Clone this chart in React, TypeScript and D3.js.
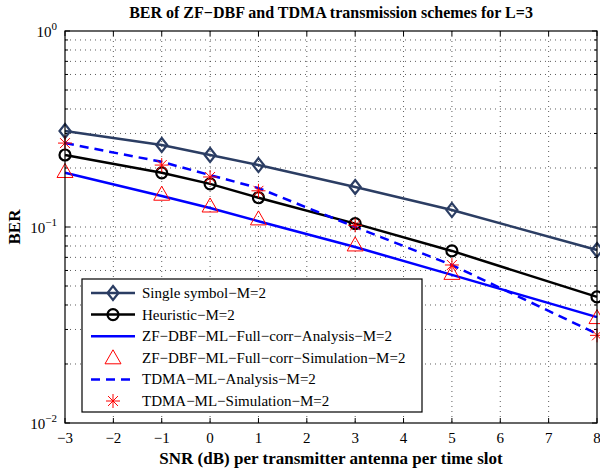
import React from "react";
import * as d3 from "d3";

// SNR points and BER values
const snr = [-3, -1, 0, 1, 3, 5, 8];
const singleSymbol = [0.309, 0.262, 0.233, 0.207, 0.16, 0.122, 0.0763];
const heuristic = [0.233, 0.189, 0.166, 0.141, 0.104, 0.0755, 0.044];
const zfAnalysis = [0.189, 0.144, 0.125, 0.107, 0.079, 0.057, 0.0347];
const zfSimulation = [0.192, 0.147, 0.128, 0.11, 0.081, 0.058, 0.0345];
const tdmaAnalysis = [0.268, 0.215, 0.184, 0.158, 0.1, 0.064, 0.0285];
const tdmaSimulation = [0.268, 0.207, 0.18, 0.153, 0.102, 0.064, 0.028];
const xTicks = [-3, -2, -1, 0, 1, 2, 3, 4, 5, 6, 7, 8];
const yDecades = [-2, -1, 0];
const legendLabels = [
  "Single symbol\u2212M=2",
  "Heuristic\u2212M=2",
  "ZF\u2212DBF\u2212ML\u2212Full\u2212corr\u2212Analysis\u2212M=2",
  "ZF\u2212DBF\u2212ML\u2212Full\u2212corr\u2212Simulation\u2212M=2",
  "TDMA\u2212ML\u2212Analysis\u2212M=2",
  "TDMA\u2212ML\u2212Simulation\u2212M=2",
];

const W = 600;
const H = 472;
const m = { left: 65, right: 597, top: 31, bottom: 423 };
const font = "Tinos";
const navy = "#2b3d63";

const x = d3.scaleLinear().domain([-3, 8]).range([m.left, m.right]);
const y = d3.scaleLog().domain([0.01, 1]).range([m.bottom, m.top]);

const minus = (v: number) => (v < 0 ? "\u2212" + Math.abs(v) : String(v));

const line = (vals: number[]) =>
  d3
    .line<number>()
    .x((_, i) => x(snr[i]))
    .y((v) => y(v))(vals) || "";

const Diamond = ({ cx, cy }: { cx: number; cy: number }) => (
  <path
    d={`M${cx},${cy - 7}L${cx + 5.5},${cy}L${cx},${cy + 7}L${cx - 5.5},${cy}Z`}
    fill="none"
    stroke={navy}
    strokeWidth={2.2}
  />
);
const Circle = ({ cx, cy }: { cx: number; cy: number }) => (
  <circle cx={cx} cy={cy} r={5.5} fill="none" stroke="#000" strokeWidth={2.2} />
);
const Triangle = ({ cx, cy }: { cx: number; cy: number }) => (
  <path
    d={`M${cx},${cy - 8}L${cx + 8},${cy + 6}L${cx - 8},${cy + 6}Z`}
    fill="none"
    stroke="#ff0000"
    strokeWidth={1}
  />
);
const Star = ({ cx, cy }: { cx: number; cy: number }) => {
  const r = 7;
  const d = r * 0.707;
  return (
    <path
      d={`M${cx - r},${cy}H${cx + r}M${cx},${cy - r}V${cy + r}M${cx - d},${cy - d}L${cx + d},${cy + d}M${cx - d},${cy + d}L${cx + d},${cy - d}`}
      stroke="#ff0000"
      strokeWidth={1}
    />
  );
};

export default function App() {
  const minorY: number[] = [];
  yDecades.slice(0, 2).forEach((e) => {
    for (let k = 2; k <= 9; k++) minorY.push(k * Math.pow(10, e));
  });
  const allY = [...minorY, 0.1];
  const lx = 82;
  const ly = 279;
  const lw = 340;
  const lh = 133;
  const rowY = (i: number) => ly + 14 + i * 21.6;

  return (
    <svg width={W} height={H} style={{ position: "absolute", left: 0, top: 0, background: "#fff" }}>
      <rect width={W} height={H} fill="#fff" />
      {/* grid */}
      <g stroke="#333" strokeWidth={0.8} strokeDasharray="1,4">
        {xTicks.slice(1, -1).map((t) => (
          <line key={t} x1={x(t)} x2={x(t)} y1={m.top} y2={m.bottom} />
        ))}
        {allY.map((v) => (
          <line key={v} x1={m.left} x2={m.right} y1={y(v)} y2={y(v)} />
        ))}
      </g>
      {/* ticks */}
      <g stroke="#000" strokeWidth={1}>
        {xTicks.map((t) => (
          <g key={t}>
            <line x1={x(t)} x2={x(t)} y1={m.bottom} y2={m.bottom - 5} />
            <line x1={x(t)} x2={x(t)} y1={m.top} y2={m.top + 5} />
          </g>
        ))}
        {minorY.map((v) => (
          <g key={v}>
            <line x1={m.left} x2={m.left + 3} y1={y(v)} y2={y(v)} />
            <line x1={m.right} x2={m.right - 3} y1={y(v)} y2={y(v)} />
          </g>
        ))}
        {yDecades.map((e) => (
          <g key={e}>
            <line x1={m.left} x2={m.left + 5} y1={y(Math.pow(10, e))} y2={y(Math.pow(10, e))} />
            <line x1={m.right} x2={m.right - 5} y1={y(Math.pow(10, e))} y2={y(Math.pow(10, e))} />
          </g>
        ))}
      </g>
      {/* series */}
      <path d={line(singleSymbol)} fill="none" stroke={navy} strokeWidth={2.5} />
      <path d={line(heuristic)} fill="none" stroke="#000" strokeWidth={2.5} />
      <path d={line(zfAnalysis)} fill="none" stroke="#0000ff" strokeWidth={2.5} />
      <path d={line(tdmaAnalysis)} fill="none" stroke="#0000ff" strokeWidth={2.5} strokeDasharray="9,6" />
      {snr.map((s, i) => (
        <g key={s}>
          <Diamond cx={x(s)} cy={y(singleSymbol[i])} />
          <Circle cx={x(s)} cy={y(heuristic[i])} />
          <Triangle cx={x(s)} cy={y(zfSimulation[i])} />
          <Star cx={x(s)} cy={y(tdmaSimulation[i])} />
        </g>
      ))}
      {/* frame */}
      <rect x={m.left} y={m.top} width={m.right - m.left} height={m.bottom - m.top} fill="none" stroke="#000" strokeWidth={1.2} />
      {/* tick labels */}
      {xTicks.map((t) => (
        <text key={t} x={x(t)} y={443} fontSize={15} textAnchor="middle" fontFamily={font}>
          {minus(t)}
        </text>
      ))}
      {yDecades.map((e) => (
        <text key={e} x={m.left - 8} y={y(Math.pow(10, e)) + 6} fontSize={15} textAnchor="end" fontFamily={font}>
          10
          <tspan fontSize={11} dy={-7} fontFamily={font}>
            {minus(e)}
          </tspan>
        </text>
      ))}
      {/* titles */}
      <text x={(m.left + m.right) / 2} y={18} textAnchor="middle" fontSize={16} fontWeight="bold" fontFamily={font}>
        BER of ZF{"\u2212"}DBF and TDMA transmission schemes for L=3
      </text>
      <text x={(m.left + m.right) / 2} y={464} textAnchor="middle" fontSize={17} fontWeight="bold" fontFamily={font}>
        SNR (dB) per transmitter antenna per time slot
      </text>
      <text transform={`translate(20,${(m.top + m.bottom) / 2}) rotate(-90)`} textAnchor="middle" fontSize={17} fontWeight="bold" fontFamily={font}>
        BER
      </text>
      {/* legend */}
      <rect x={lx} y={ly} width={lw} height={lh} fill="#fff" stroke="#000" strokeWidth={1.2} />
      {legendLabels.map((lab, i) => {
        const cy = rowY(i);
        return (
          <g key={lab}>
            {i === 0 && <line x1={91} x2={135} y1={cy} y2={cy} stroke={navy} strokeWidth={2.5} />}
            {i === 0 && <Diamond cx={113} cy={cy} />}
            {i === 1 && <line x1={91} x2={135} y1={cy} y2={cy} stroke="#000" strokeWidth={2.5} />}
            {i === 1 && <Circle cx={113} cy={cy} />}
            {i === 2 && <line x1={91} x2={135} y1={cy} y2={cy} stroke="#0000ff" strokeWidth={2.5} />}
            {i === 3 && <Triangle cx={113} cy={cy} />}
            {i === 4 && <line x1={91} x2={135} y1={cy} y2={cy} stroke="#0000ff" strokeWidth={2.5} strokeDasharray="9,6" />}
            {i === 5 && <Star cx={113} cy={cy} />}
            <text x={142} y={cy + 5} fontSize={15} fontFamily={font}>
              {lab}
            </text>
          </g>
        );
      })}
    </svg>
  );
}
